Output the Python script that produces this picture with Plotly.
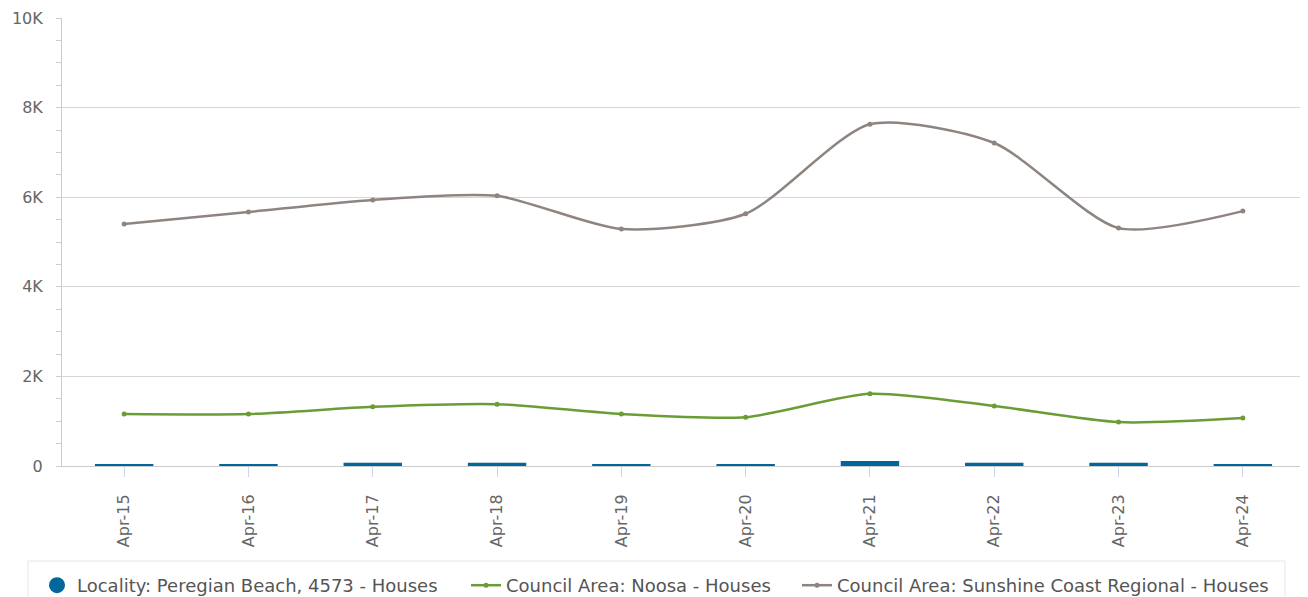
import plotly.graph_objects as go

categories = ["Apr-15", "Apr-16", "Apr-17", "Apr-18", "Apr-19", "Apr-20", "Apr-21", "Apr-22", "Apr-23", "Apr-24"]
peregian = [35, 35, 70, 70, 35, 35, 110, 70, 70, 35]
noosa = [1160, 1160, 1320, 1380, 1160, 1090, 1610, 1340, 980, 1070]
sunshine = [5400, 5670, 5940, 6030, 5290, 5630, 7630, 7210, 5310, 5690]
ytick_vals = [0, 2000, 4000, 6000, 8000, 10000]
ytick_text = ["0", "2K", "4K", "6K", "8K", "10K"]

names = ["Locality: Peregian Beach, 4573 - Houses",
         "Council Area: Noosa - Houses",
         "Council Area: Sunshine Coast Regional - Houses"]
c_bar = "#00669b"
c_noosa = "#6a9d35"
c_sun = "#8e8580"

# page has an 8px body margin: figure origin at (8, 8)
OFF = 8
W, H = 1308 - OFF, 597 - OFF
# plot area in page px
L, R, T, B = 62, 1305, 18, 466
PW, PH = R - L, B - T
def px_x(x):
    return (x - L) / PW
def px_y(y):
    return (B - y) / PH

fig = go.Figure()
fig.add_trace(go.Bar(x=categories, y=peregian, marker=dict(color=c_bar, line=dict(width=0)),
                     width=0.47, showlegend=False, name=names[0]))
fig.add_trace(go.Scatter(x=[None], y=[None], mode="markers", name=names[0], legend="legend",
                         marker=dict(color=c_bar, size=16, symbol="circle")))
fig.add_trace(go.Scatter(x=categories, y=noosa, mode="lines+markers", name=names[1], legend="legend2",
                         line=dict(color=c_noosa, width=2.5, shape="spline", smoothing=0.7),
                         marker=dict(color=c_noosa, size=5)))
fig.add_trace(go.Scatter(x=categories, y=sunshine, mode="lines+markers", name=names[2], legend="legend3",
                         line=dict(color=c_sun, width=2.5, shape="spline", smoothing=0.7),
                         marker=dict(color=c_sun, size=5)))

leg_common = dict(orientation="h", xanchor="left", yanchor="top", y=px_y(567),
                  borderwidth=0, bgcolor="rgba(0,0,0,0)",
                  font=dict(family="DejaVu Sans", size=18, color="#555555"))

fig.update_layout(
    width=W, height=H,
    margin=dict(l=L - OFF, r=W - (R - OFF), t=T - OFF, b=H - (B - OFF), autoexpand=False),
    paper_bgcolor="white", plot_bgcolor="white",
    font=dict(family="DejaVu Sans", size=14, color="#666666"),
    legend=dict(x=px_x(37), **leg_common),
    legend2=dict(x=px_x(466), **leg_common),
    legend3=dict(x=px_x(797), **leg_common),
    shapes=[dict(type="rect", xref="paper", yref="paper",
                 x0=px_x(28), x1=px_x(1285), y0=px_y(561), y1=px_y(640),
                 line=dict(color="#e6e6e6", width=1), fillcolor="rgba(0,0,0,0)", layer="below")],
)
fig.update_xaxes(
    type="category", range=[-0.5, 9.5], automargin=False,
    showgrid=False, showline=True, linecolor="#cccccc", linewidth=1,
    ticks="outside", ticklen=10, tickcolor="#ccd6eb", tickangle=-90,
    tickfont=dict(family="DejaVu Sans", size=16, color="#666666"),
    ticklabelstandoff=11,
)
fig.update_yaxes(
    range=[0, 10000], tickvals=ytick_vals, ticktext=ytick_text, automargin=False,
    showgrid=True, gridcolor="#d6d6d6", gridwidth=1,
    showline=True, linecolor="#cccccc", linewidth=1,
    ticks="outside", ticklen=5, tickcolor="#cccccc",
    minor=dict(dtick=500, ticks="outside", ticklen=5, tickcolor="#cccccc", showgrid=False),
    zeroline=False, ticklabelstandoff=10,
    tickfont=dict(family="DejaVu Sans", size=16, color="#666666"),
)
fig.write_html("out.html")
